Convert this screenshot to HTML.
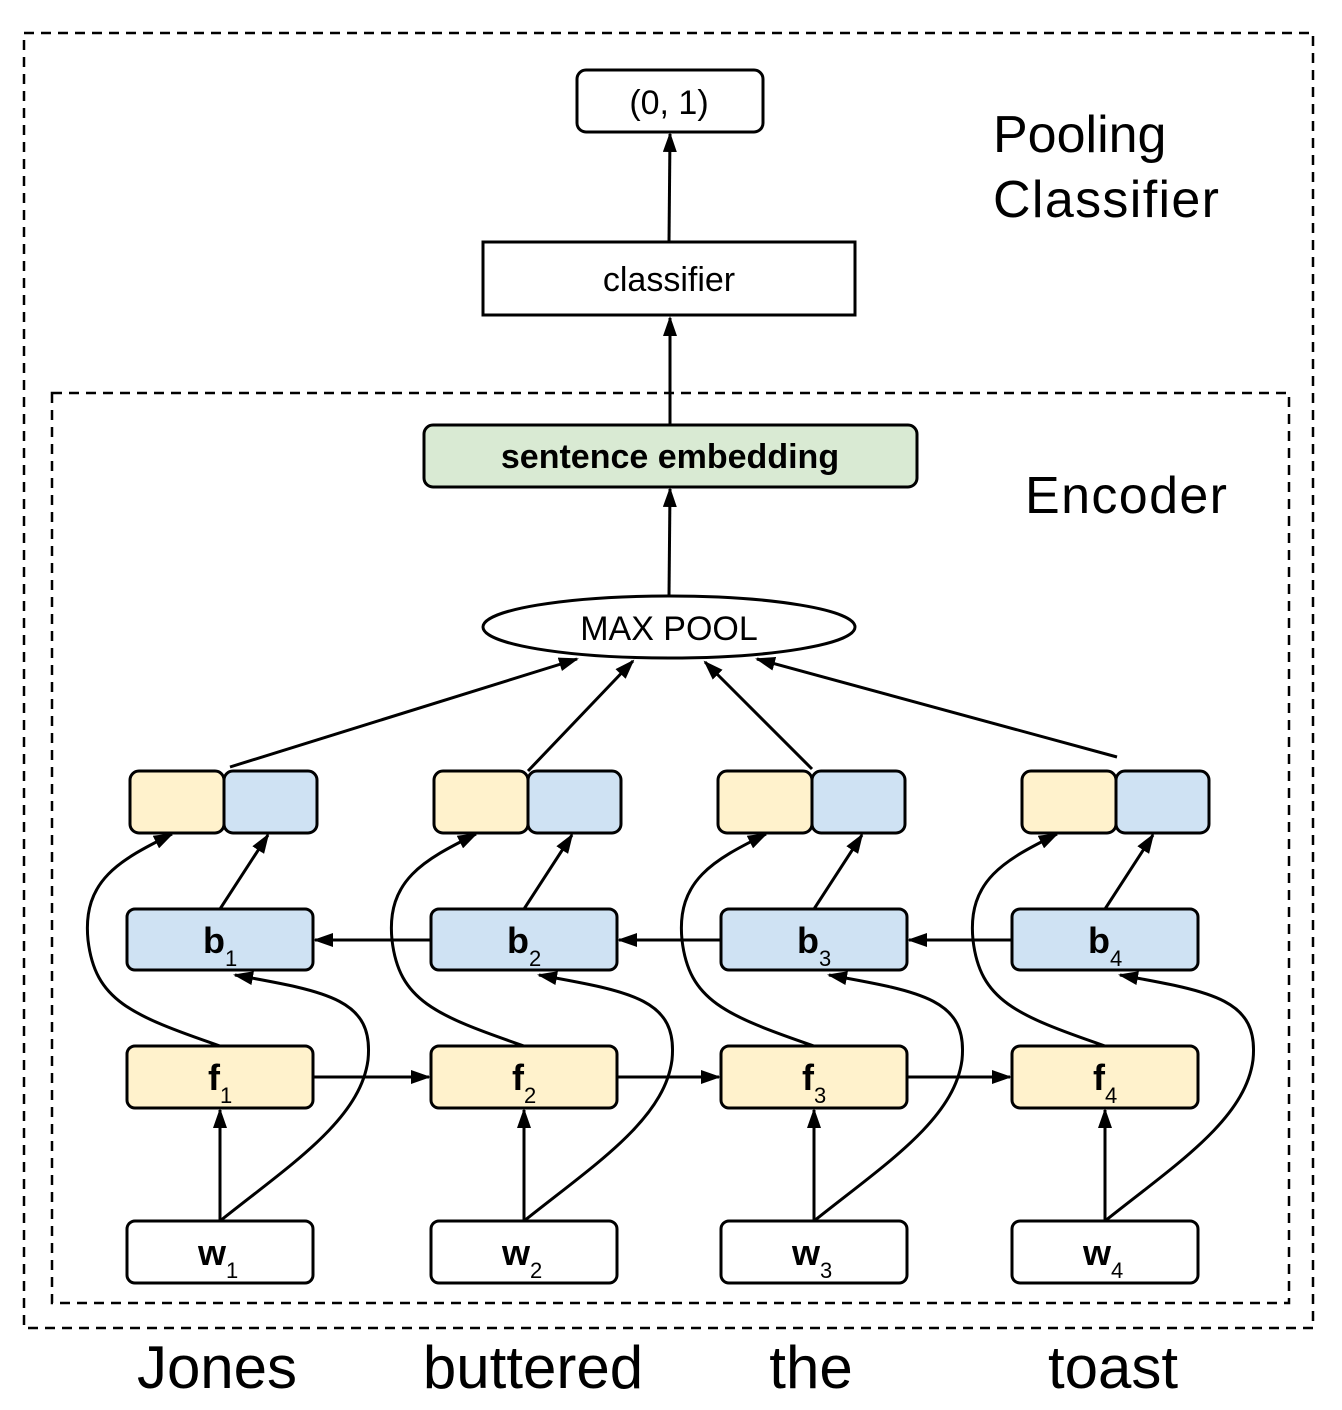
<!DOCTYPE html>
<html><head><style>
html,body{margin:0;padding:0;background:#fff;}
svg{display:block;font-family:"Liberation Sans",Arial,sans-serif;}
</style></head><body>
<svg width="1342" height="1410" viewBox="0 0 1342 1410" xmlns="http://www.w3.org/2000/svg">
<defs>
<marker id="h" viewBox="0 0 10 10" refX="9" refY="5" markerWidth="20" markerHeight="14" markerUnits="userSpaceOnUse" orient="auto" preserveAspectRatio="none"><path d="M0,0 L10,5 L0,10 z" fill="#000"/></marker>
<g id="col">
  <rect x="-93" y="909" width="186" height="61" rx="8" fill="#cfe2f3" stroke="#000" stroke-width="3"/>
  <rect x="-93" y="1046" width="186" height="62" rx="8" fill="#fff2cc" stroke="#000" stroke-width="3"/>
  <rect x="-93" y="1221" width="186" height="62" rx="8" fill="#fff" stroke="#000" stroke-width="3"/>
  <g fill="none" stroke="#000" stroke-width="3">
    <path d="M0,1221 L0,1110" marker-end="url(#h)"/>
    <path d="M0,909 L48,835" marker-end="url(#h)"/>
    <path d="M0,1046 C-90,1015 -125,1000 -132,940 C-138,880 -100,860 -48,834" marker-end="url(#h)"/>
    <path d="M0,1221 C70,1165 140,1120 148,1060 C154,1000 110,992 15,975" marker-end="url(#h)"/>
  </g>
</g>
<g id="pair">
  <rect x="0" y="771" width="94" height="62" rx="9" fill="#fff2cc" stroke="#000" stroke-width="3"/>
  <rect x="94" y="771" width="93" height="62" rx="9" fill="#cfe2f3" stroke="#000" stroke-width="3"/>
</g>
</defs>
<rect x="24" y="33" width="1289" height="1295" fill="none" stroke="#000" stroke-width="2.5" stroke-dasharray="10,7"/>
<rect x="52" y="393" width="1237" height="910" fill="none" stroke="#000" stroke-width="2.5" stroke-dasharray="10,7"/>
<use href="#pair" x="130"/>
<use href="#pair" x="434"/>
<use href="#pair" x="718"/>
<use href="#pair" x="1022"/>
<use href="#col" x="220"/>
<use href="#col" x="524"/>
<use href="#col" x="814"/>
<use href="#col" x="1105"/>
<g fill="none" stroke="#000" stroke-width="3">
  <path d="M431,940 L315,940" marker-end="url(#h)"/>
  <path d="M721,940 L619,940" marker-end="url(#h)"/>
  <path d="M1012,940 L909,940" marker-end="url(#h)"/>
  <path d="M313,1077 L429,1077" marker-end="url(#h)"/>
  <path d="M617,1077 L719,1077" marker-end="url(#h)"/>
  <path d="M907,1077 L1010,1077" marker-end="url(#h)"/>
  <path d="M230,767 L577,659" marker-end="url(#h)"/>
  <path d="M528,771 L633,661" marker-end="url(#h)"/>
  <path d="M812,769 L705,662" marker-end="url(#h)"/>
  <path d="M1117,757 L757,659" marker-end="url(#h)"/>
  <path d="M669,596 L670,489" marker-end="url(#h)"/>
  <path d="M670,425 L670,318" marker-end="url(#h)"/>
  <path d="M669,242 L670,134" marker-end="url(#h)"/>
</g>
<ellipse cx="669" cy="627" rx="186" ry="31" fill="#fff" stroke="#000" stroke-width="3"/>
<rect x="424" y="425" width="493" height="62" rx="9" fill="#d9ead3" stroke="#000" stroke-width="3"/>
<rect x="483" y="242" width="372" height="73" fill="#fff" stroke="#000" stroke-width="3"/>
<rect x="577" y="70" width="186" height="62" rx="9" fill="#fff" stroke="#000" stroke-width="3"/>
<g text-anchor="middle" fill="#000">
  <text x="669" y="114" font-size="34">(0, 1)</text>
  <text x="669" y="291" font-size="34">classifier</text>
  <text x="670" y="468" font-size="34" font-weight="bold">sentence embedding</text>
  <text x="669" y="640" font-size="34">MAX POOL</text>
</g>
<g font-size="36" font-weight="bold">
  <text x="203" y="953">b<tspan font-size="22" font-weight="normal" dy="13">1</tspan></text>
  <text x="507" y="953">b<tspan font-size="22" font-weight="normal" dy="13">2</tspan></text>
  <text x="797" y="953">b<tspan font-size="22" font-weight="normal" dy="13">3</tspan></text>
  <text x="1088" y="953">b<tspan font-size="22" font-weight="normal" dy="13">4</tspan></text>
  <text x="208" y="1090">f<tspan font-size="22" font-weight="normal" dy="13">1</tspan></text>
  <text x="512" y="1090">f<tspan font-size="22" font-weight="normal" dy="13">2</tspan></text>
  <text x="802" y="1090">f<tspan font-size="22" font-weight="normal" dy="13">3</tspan></text>
  <text x="1093" y="1090">f<tspan font-size="22" font-weight="normal" dy="13">4</tspan></text>
  <text x="198" y="1265">w<tspan font-size="22" font-weight="normal" dy="13">1</tspan></text>
  <text x="502" y="1265">w<tspan font-size="22" font-weight="normal" dy="13">2</tspan></text>
  <text x="792" y="1265">w<tspan font-size="22" font-weight="normal" dy="13">3</tspan></text>
  <text x="1083" y="1265">w<tspan font-size="22" font-weight="normal" dy="13">4</tspan></text>
</g>
<g font-size="52">
  <text x="993" y="152">Pooling</text>
  <text x="993" y="217" textLength="226">Classifier</text>
  <text x="1025" y="513" textLength="202">Encoder</text>
</g>
<g font-size="60" text-anchor="middle">
  <text x="217" y="1388">Jones</text>
  <text x="533" y="1388">buttered</text>
  <text x="811" y="1388">the</text>
  <text x="1113" y="1388">toast</text>
</g>
</svg>
</body></html>
